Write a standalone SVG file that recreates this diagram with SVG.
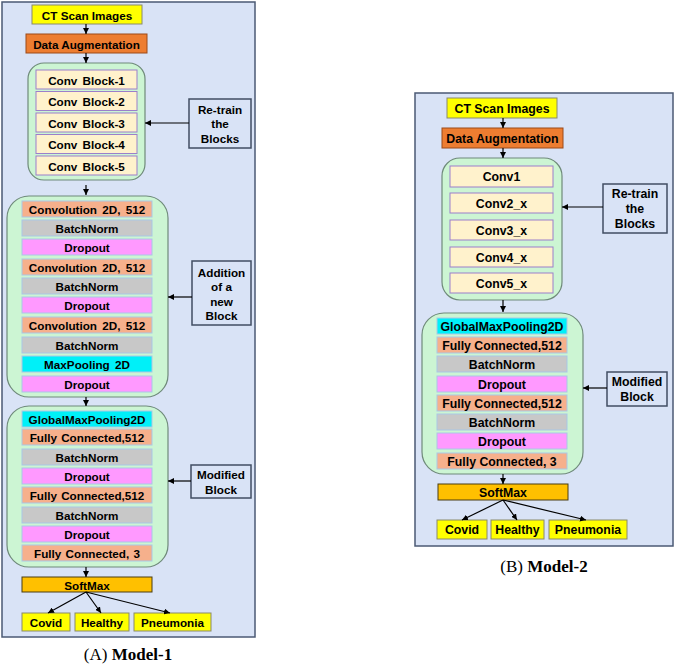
<svg xmlns="http://www.w3.org/2000/svg" width="675" height="668" viewBox="0 0 675 668">
<style>
text{font-family:"Liberation Sans",Arial,sans-serif;font-weight:bold;fill:#000;text-anchor:middle;dominant-baseline:central}
.l text{font-size:11.7px}
.r text{font-size:12.3px}
.panel{fill:#d9e3f6;stroke:#4b5a74;stroke-width:1.5}
.yel{fill:#ffff00;stroke:#8a8a6a;stroke-width:1}
.org{fill:#ed7d31;stroke:#9c4a18;stroke-width:1}
.grn{fill:#ccf5d3;stroke:#6f8a7a;stroke-width:1.2}
.conv{fill:#fff2cc;stroke:#9b7fcb;stroke-width:1}
.sal{fill:#f6b08c;stroke:#a9c7e6;stroke-width:1}
.bn{fill:#c8c8c8;stroke:#a9c7e6;stroke-width:1}
.dp{fill:#ff99ff;stroke:#a9c7e6;stroke-width:1}
.cy{fill:#00f0f8;stroke:#a9c7e6;stroke-width:1}
.sm{fill:#ffc000;stroke:#4a3c10;stroke-width:1}
.lab{fill:#d9e3f6;stroke:#414e63;stroke-width:1.5}
.cn{stroke:#000;stroke-width:1.2;fill:none;marker-end:url(#ah)}
.cap{font-family:"Liberation Serif","Times New Roman",serif;font-size:17px;font-weight:normal;dominant-baseline:auto}
</style>
<defs>
<marker id="ah" markerUnits="userSpaceOnUse" markerWidth="6" markerHeight="6" refX="6" refY="3" orient="auto"><path d="M0,0 L6,3 L0,6 z" fill="#000"/></marker>
</defs>
<rect x="0" y="0" width="675" height="668" fill="#fff"/>

<g class="l">
<rect class="panel" x="2" y="2" width="253" height="635"/>
<g id="a_ct"><rect class="yel" x="32" y="5" width="110" height="19"/><text x="87" y="15">CT Scan Images</text></g>
<g id="a_da"><rect class="org" x="26" y="34" width="121" height="19"/><text x="86.5" y="44">Data Augmentation</text></g>
<g id="a_g1"><rect class="grn" x="28" y="63" width="117" height="117" rx="16"/>
<rect class="conv" x="36" y="70" width="101" height="19"/><text x="86.5" y="80" word-spacing="2">Conv Block-1</text>
<rect class="conv" x="36" y="91.5" width="101" height="19"/><text x="86.5" y="101.5" word-spacing="2">Conv Block-2</text>
<rect class="conv" x="36" y="113" width="101" height="19"/><text x="86.5" y="123" word-spacing="2">Conv Block-3</text>
<rect class="conv" x="36" y="134.5" width="101" height="19"/><text x="86.5" y="144.5" word-spacing="2">Conv Block-4</text>
<rect class="conv" x="36" y="156" width="101" height="19"/><text x="86.5" y="166" word-spacing="2">Conv Block-5</text>
</g>
<g id="a_g2"><rect class="grn" x="7" y="196" width="161" height="201" rx="22"/>
<rect class="sal" x="22" y="201" width="130" height="16"/><text x="87" y="209.5" word-spacing="2">Convolution 2D, 512</text>
<rect class="bn" x="22" y="220" width="130" height="16"/><text x="87" y="228.5">BatchNorm</text>
<rect class="dp" x="22" y="239" width="130" height="16"/><text x="87" y="247.5">Dropout</text>
<rect class="sal" x="22" y="259" width="130" height="16"/><text x="87" y="267.5" word-spacing="2">Convolution 2D, 512</text>
<rect class="bn" x="22" y="278" width="130" height="16"/><text x="87" y="286.5">BatchNorm</text>
<rect class="dp" x="22" y="297" width="130" height="16"/><text x="87" y="305.5">Dropout</text>
<rect class="sal" x="22" y="317" width="130" height="16"/><text x="87" y="325.5" word-spacing="2">Convolution 2D, 512</text>
<rect class="bn" x="22" y="337" width="130" height="16"/><text x="87" y="345.5">BatchNorm</text>
<rect class="cy" x="22" y="356" width="130" height="16"/><text x="87" y="364.5" word-spacing="2">MaxPooling 2D</text>
<rect class="dp" x="22" y="376" width="130" height="16"/><text x="87" y="384.5">Dropout</text>
</g>
<g id="a_g3"><rect class="grn" x="7" y="406" width="161" height="161" rx="22"/>
<rect class="cy" x="22" y="411" width="130" height="16"/><text x="87" y="419.5">GlobalMaxPooling2D</text>
<rect class="sal" x="22" y="429" width="130" height="16"/><text x="87" y="437.5" word-spacing="1">Fully Connected,512</text>
<rect class="bn" x="22" y="449" width="130" height="16"/><text x="87" y="457.5">BatchNorm</text>
<rect class="dp" x="22" y="468" width="130" height="16"/><text x="87" y="476.5">Dropout</text>
<rect class="sal" x="22" y="487" width="130" height="16"/><text x="87" y="495.5" word-spacing="1">Fully Connected,512</text>
<rect class="bn" x="22" y="507" width="130" height="16"/><text x="87" y="515.5">BatchNorm</text>
<rect class="dp" x="22" y="526" width="130" height="16"/><text x="87" y="534.5">Dropout</text>
<rect class="sal" x="22" y="545" width="130" height="16"/><text x="87" y="553.5" word-spacing="1">Fully Connected, 3</text>
</g>
<g id="a_sm"><rect class="sm" x="22" y="577" width="130" height="15"/><text x="87" y="585">SoftMax</text></g>
<g id="a_covid"><rect class="yel" x="22" y="613" width="48" height="18"/><text x="46" y="622.5">Covid</text></g>
<g id="a_healthy"><rect class="yel" x="75" y="613" width="54" height="18"/><text x="102" y="622.5">Healthy</text></g>
<g id="a_pneu"><rect class="yel" x="134" y="613" width="77" height="18"/><text x="172.5" y="622.5">Pneumonia</text></g>
<g id="a_retrain"><rect class="lab" x="189" y="99" width="62" height="49"/><text x="220" y="109">Re-train</text><text x="220" y="123.5">the</text><text x="220" y="138">Blocks</text></g>
<g id="a_add"><rect class="lab" x="192" y="261" width="59" height="64"/><text x="221.5" y="272">Addition</text><text x="221.5" y="286.5">of a</text><text x="221.5" y="301">new</text><text x="221.5" y="315.5">Block</text></g>
<g id="a_mod"><rect class="lab" x="191" y="465" width="60" height="33"/><text x="221" y="474.5">Modified</text><text x="221" y="489">Block</text></g>
<g id="a_conn">
<line class="cn" x1="86" y1="24" x2="86" y2="34"/>
<line class="cn" x1="86" y1="53" x2="86" y2="63"/>
<line class="cn" x1="86" y1="185" x2="86" y2="195"/>
<line class="cn" x1="86" y1="397" x2="86" y2="406"/>
<line class="cn" x1="86" y1="567" x2="86" y2="577"/>
<line class="cn" x1="189" y1="123" x2="145" y2="123"/>
<line class="cn" x1="192" y1="297" x2="168" y2="297"/>
<line class="cn" x1="191" y1="481" x2="168" y2="481"/>
<line class="cn" x1="86" y1="592" x2="48" y2="613"/>
<line class="cn" x1="86" y1="592" x2="101" y2="613"/>
<line class="cn" x1="86" y1="592" x2="170" y2="613"/>
</g>
</g>
<text class="cap" x="128" y="660"><tspan>(A) </tspan><tspan font-weight="bold">Model-1</tspan></text>

<g class="r">
<rect class="panel" x="415" y="93" width="258" height="453"/>
<g id="b_ct"><rect class="yel" x="447" y="98" width="110" height="20"/><text x="502" y="108.5">CT Scan Images</text></g>
<g id="b_da"><rect class="org" x="442" y="128" width="121" height="20"/><text x="502.5" y="138.5">Data Augmentation</text></g>
<g id="b_g1"><rect class="grn" x="442" y="158" width="120" height="142" rx="18"/>
<rect class="conv" x="450" y="166" width="103" height="21"/><text x="501.5" y="177">Conv1</text>
<rect class="conv" x="450" y="193" width="103" height="20"/><text x="501.5" y="203.5">Conv2_x</text>
<rect class="conv" x="450" y="220" width="103" height="20"/><text x="501.5" y="230.5">Conv3_x</text>
<rect class="conv" x="450" y="247" width="103" height="20"/><text x="501.5" y="257.5">Conv4_x</text>
<rect class="conv" x="450" y="273" width="103" height="20"/><text x="501.5" y="283.5">Conv5_x</text>
</g>
<g id="b_g2"><rect class="grn" x="422" y="313" width="161" height="161" rx="22"/>
<rect class="cy" x="437" y="318" width="130" height="16"/><text x="502" y="326.5">GlobalMaxPooling2D</text>
<rect class="sal" x="437" y="337" width="130" height="16"/><text x="502" y="345.5">Fully Connected,512</text>
<rect class="bn" x="437" y="356" width="130" height="16"/><text x="502" y="364.5">BatchNorm</text>
<rect class="dp" x="437" y="376" width="130" height="16"/><text x="502" y="384.5">Dropout</text>
<rect class="sal" x="437" y="395" width="130" height="16"/><text x="502" y="403.5">Fully Connected,512</text>
<rect class="bn" x="437" y="414" width="130" height="16"/><text x="502" y="422.5">BatchNorm</text>
<rect class="dp" x="437" y="433" width="130" height="16"/><text x="502" y="441.5">Dropout</text>
<rect class="sal" x="437" y="453" width="130" height="16"/><text x="502" y="461.5">Fully Connected, 3</text>
</g>
<g id="b_sm"><rect class="sm" x="438" y="484" width="130" height="16"/><text x="503" y="492.5">SoftMax</text></g>
<g id="b_covid"><rect class="yel" x="437" y="520" width="50" height="19"/><text x="462" y="530">Covid</text></g>
<g id="b_healthy"><rect class="yel" x="491" y="520" width="53" height="19"/><text x="517.5" y="530">Healthy</text></g>
<g id="b_pneu"><rect class="yel" x="549" y="520" width="78" height="19"/><text x="588" y="530">Pneumonia</text></g>
<g id="b_retrain"><rect class="lab" x="603" y="184" width="64" height="49"/><text x="635" y="194">Re-train</text><text x="635" y="209">the</text><text x="635" y="224">Blocks</text></g>
<g id="b_mod"><rect class="lab" x="607" y="372" width="60" height="34"/><text x="637" y="382">Modified</text><text x="637" y="397">Block</text></g>
<g id="b_conn">
<line class="cn" x1="503" y1="118" x2="503" y2="128"/>
<line class="cn" x1="503" y1="148" x2="503" y2="158"/>
<line class="cn" x1="503" y1="300" x2="503" y2="312"/>
<line class="cn" x1="503" y1="474" x2="503" y2="484"/>
<line class="cn" x1="603" y1="207" x2="562" y2="207"/>
<line class="cn" x1="607" y1="388" x2="583" y2="388"/>
<line class="cn" x1="503" y1="500" x2="462" y2="520"/>
<line class="cn" x1="503" y1="500" x2="517" y2="520"/>
<line class="cn" x1="503" y1="500" x2="586" y2="520"/>
</g>
</g>
<text class="cap" x="544" y="572"><tspan>(B) </tspan><tspan font-weight="bold">Model-2</tspan></text>
</svg>
